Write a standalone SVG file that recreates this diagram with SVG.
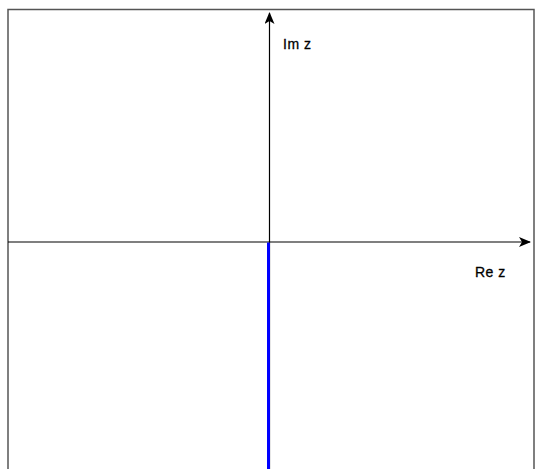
<svg xmlns="http://www.w3.org/2000/svg" width="535" height="469" viewBox="0 0 535 469">
<defs>
<marker id="arr" viewBox="0 0 12 10" refX="11" refY="5" markerWidth="12" markerHeight="10" markerUnits="userSpaceOnUse" orient="auto">
<path d="M0,0 L12,5 L0,10 L3,5 Z" fill="#000"/>
</marker>
</defs>
<style>
.frame{stroke:#555;stroke-width:1.5;fill:none}
.axis{stroke:#000;stroke-width:1.2;fill:none}
.lbl{font-family:"Liberation Sans",Arial,sans-serif;font-size:14px;fill:#000;stroke:#000;stroke-width:0.3;letter-spacing:0.5px}
</style>
<g id="frame">
<path class="frame" d="M8,469 V9.5 H534 V469"/>
</g>
<g id="connectors">
<line class="axis" x1="8" y1="242" x2="530" y2="242" marker-end="url(#arr)"/>
<line class="axis" x1="269.5" y1="469" x2="269.5" y2="13" marker-end="url(#arr)"/>
<line x1="268.5" y1="242.5" x2="268.5" y2="469" stroke="#0000ff" stroke-width="3"/>
</g>
<g id="label-im"><text class="lbl" x="283" y="49">Im z</text></g>
<g id="label-re"><text class="lbl" x="475" y="277">Re z</text></g>
</svg>
